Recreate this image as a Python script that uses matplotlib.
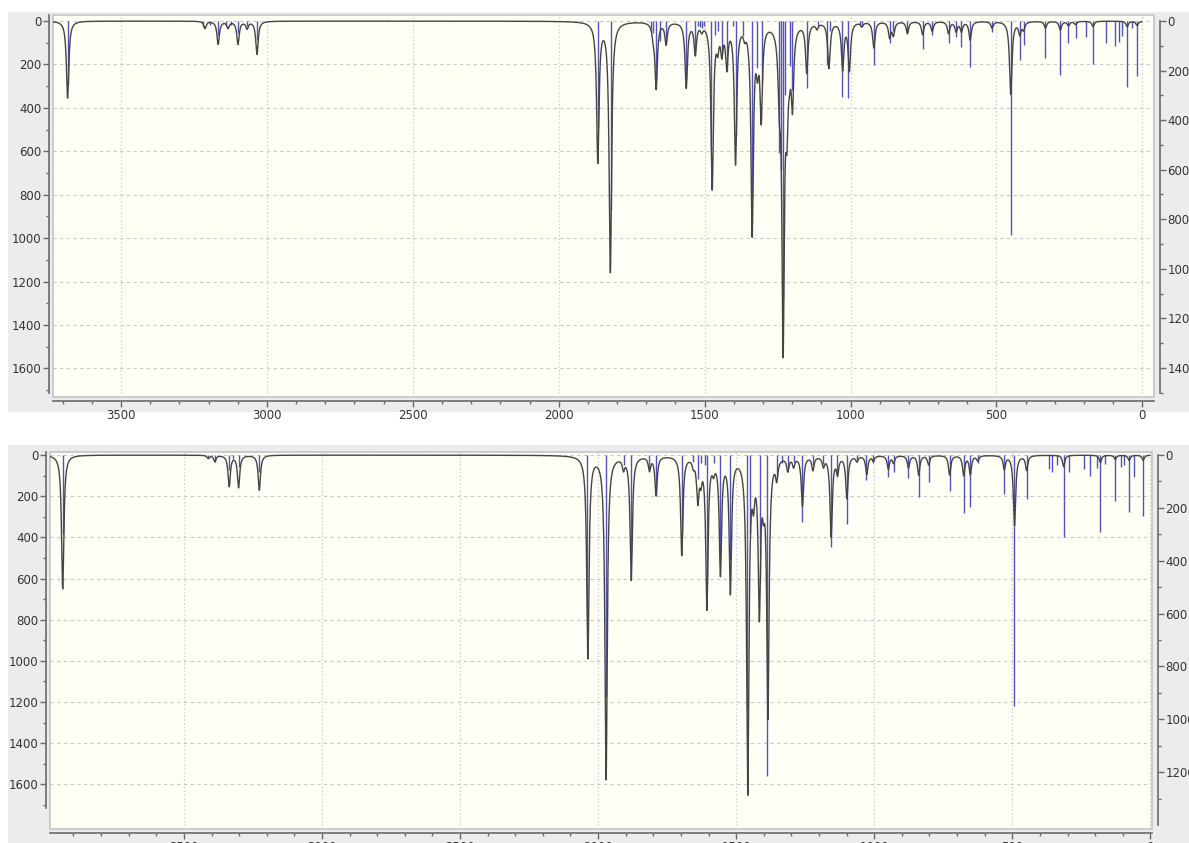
import matplotlib
matplotlib.use('Agg')
import matplotlib.pyplot as plt
from matplotlib.patches import Rectangle
from matplotlib.ticker import MultipleLocator, FixedLocator
import numpy as np

# 上图: 谱线位置 (cm-1) 和强度 (右轴)
top_stick_freq = [3683, 3219, 3195, 3167, 3140, 3123, 3099, 3068, 3034,
                  1867, 1821, 1683, 1676, 1666, 1652, 1632, 1563, 1532, 1522, 1515,
                  1508, 1501, 1477, 1466, 1455, 1441, 1424, 1403, 1394, 1367,
                  1336, 1321, 1304, 1244, 1237, 1231, 1224, 1207, 1199, 1150,
                  1113, 1081, 1072, 1029, 1007, 969, 961, 920, 866, 853, 805,
                  753, 720, 664, 638, 620, 590, 515, 451, 420, 407, 332, 281,
                  253, 229, 194, 169, 123, 95, 80, 70, 52, 35, 18]
top_stick_int = [260, 25, 15, 55, 20, 15, 50, 20, 75,
                 430, 760, 40, 50, 240, 80, 80, 238, 140, 20, 25,
                 30, 20, 520, 55, 40, 129, 200, 20, 466, 60,
                 709, 190, 250, 533, 600, 1125, 300, 180, 278, 270,
                 20, 177, 40, 306, 310, 20, 15, 177, 90, 40, 50,
                 115, 56, 90, 63, 104, 185, 45, 863, 157, 97, 148, 220,
                 88, 70, 64, 172, 90, 100, 85, 60, 268, 30, 222]

# 上图: 展宽曲线的峰 (左轴)
top_band_freq = [3683, 3212, 3167, 3133, 3099, 3068, 3034,
                 1866, 1823, 1676, 1666, 1632, 1563, 1532, 1510, 1474, 1455,
                 1441, 1424, 1394, 1363, 1337, 1319, 1306, 1244, 1231, 1218,
                 1209, 1199, 1150, 1115, 1074, 1027, 1004, 961, 920, 866, 853,
                 805, 753, 720, 664, 638, 620, 590, 515, 451, 420, 407, 332,
                 281, 253, 229, 169, 52, 18]
top_band_depth = [355, 33, 106, 30, 105, 32, 152,
                  640, 1150, 50, 300, 100, 300, 140, 30, 760, 90,
                  120, 190, 640, 40, 960, 150, 420, 260, 1450, 360,
                  110, 340, 225, 25, 210, 215, 220, 20, 120, 70, 60,
                  55, 60, 45, 55, 45, 45, 85, 30, 335, 55, 35, 30,
                  40, 20, 15, 25, 25, 20]

# 下图: 谱线位置 (cm-1) 和强度 (右轴)
bot_stick_freq = [3939, 3412, 3388, 3336, 3321, 3302, 3227,
                  2039, 1971, 1908, 1880, 1814, 1790, 1697, 1655, 1640, 1628,
                  1612, 1606, 1582, 1558, 1521, 1461, 1449, 1413, 1387, 1353,
                  1335, 1311, 1292, 1260, 1222, 1184, 1157, 1135, 1099, 1063,
                  1028, 1003, 949, 930, 876, 839, 803, 727, 676, 652, 625,
                  529, 492, 448, 366, 357, 339, 314, 295, 241, 220, 193, 181,
                  163, 127, 106, 94, 77, 58, 26]
bot_stick_int = [300, 10, 25, 57, 15, 45, 63,
                 612, 915, 40, 372, 57, 150, 303, 25, 90, 30,
                 40, 473, 30, 372, 398, 966, 300, 480, 1216, 82,
                 30, 50, 25, 252, 40, 35, 347, 75, 263, 25,
                 95, 30, 82, 63, 88, 158, 101, 136, 221, 196, 30,
                 149, 951, 167, 55, 63, 40, 309, 63, 55, 78, 50, 293,
                 35, 174, 45, 40, 215, 82, 231]

# 下图: 展宽曲线的峰 (左轴)
bot_band_freq = [3939, 3412, 3388, 3336, 3302, 3227,
                 2037, 1971, 1908, 1880, 1814, 1790, 1697, 1655, 1639, 1628,
                 1606, 1582, 1557, 1521, 1458, 1437, 1416, 1401, 1385, 1353,
                 1313, 1292, 1260, 1222, 1184, 1156, 1133, 1099, 1063, 1027,
                 1003, 949, 930, 876, 839, 803, 727, 676, 652, 625, 529, 492,
                 448, 314, 181, 127, 77, 26]
bot_band_depth = [650, 15, 30, 150, 155, 170,
                  980, 1570, 50, 600, 65, 190, 480, 35, 200, 90,
                  730, 50, 560, 650, 1620, 150, 730, 140, 1240, 90,
                  65, 45, 240, 65, 45, 390, 80, 205, 25, 90,
                  25, 65, 35, 60, 95, 45, 95, 95, 90, 25, 65, 340,
                  70, 55, 35, 20, 25, 25]

HWHM = 5.0


def band_curve(x, freq, depth):
    """洛伦兹展宽: 每个峰在自身位置达到给定深度"""
    y = np.zeros_like(x)
    for f, d in zip(freq, depth):
        y += d / (1.0 + ((x - f) / HWHM) ** 2)
    return y


def draw_panel(ax, stick_f, stick_i, band_f, band_d, xlim, ylim_l, ylim_r,
               lmaj, lmin, rmaj, rmin, rend):
    ax2 = ax.twinx()
    ax.set_xlim(*xlim)
    ax.set_ylim(*ylim_l)
    ax2.set_ylim(*ylim_r)

    ax.set_facecolor('#fffff6')
    ax.patch.set_edgecolor('#c4c4c4')
    ax.patch.set_linewidth(1.2)

    # 刻度和网格
    ax.xaxis.set_major_locator(MultipleLocator(500))
    ax.xaxis.set_minor_locator(MultipleLocator(100))
    ax.yaxis.set_major_locator(FixedLocator(np.arange(0, lmaj + 1, 200)))
    ax.yaxis.set_minor_locator(FixedLocator(np.arange(100, lmin + 1, 200)))
    ax2.yaxis.set_major_locator(FixedLocator(np.arange(0, rmaj + 1, 200)))
    ax2.yaxis.set_minor_locator(FixedLocator(np.arange(100, rmin + 1, 200)))
    ax.grid(True, axis='y', color='#c8c8c8', linestyle=(0, (3, 3)), linewidth=0.8)
    ax.grid(True, axis='x', color='#c8c8c8', linestyle=(0, (1, 2)), linewidth=0.9)

    # 谱线 (右轴刻度)
    ax.vlines(stick_f, 0, stick_i, colors='#3535b5', linewidth=1.0, alpha=0.85,
              transform=ax2.transData, zorder=2)

    # 展宽曲线 (左轴刻度)
    x = np.arange(xlim[0], xlim[1], -0.25)
    x = x[(x <= max(xlim)) & (x >= 2)]
    y = band_curve(x, band_f, band_d)
    ax.plot(x, y, color='#444444', linewidth=1.0, zorder=3)

    for s in ['top', 'right']:
        ax.spines[s].set_visible(False)
    for s in ['left', 'bottom']:
        ax.spines[s].set_position(('outward', 3))
        ax.spines[s].set_color('#6a6a6a')
        ax.spines[s].set_linewidth(1.2)
    ax.spines['left'].set_bounds(ylim_l[1], lmin + 15)
    for s in ['top', 'left', 'bottom']:
        ax2.spines[s].set_visible(False)
    ax2.spines['right'].set_position(('outward', 4))
    ax2.spines['right'].set_bounds(0, rend)
    ax2.spines['right'].set_color('#6a6a6a')
    ax2.spines['right'].set_linewidth(1.2)

    for a in (ax, ax2):
        a.tick_params(which='major', length=4, width=1, color='#6a6a6a',
                      labelsize=8.5, labelcolor='#333333', pad=1.5)
        a.tick_params(which='minor', length=2.5, width=1, color='#6a6a6a')
    return ax2


fig = plt.figure(figsize=(11.89, 8.43), dpi=100)
fig.patch.set_facecolor('white')
W, H = 1189.0, 843.0
fig.patches.append(Rectangle((8 / W, 1 - 412 / H), 1 - 8 / W, 400 / H,
                             transform=fig.transFigure, facecolor='#ececec',
                             edgecolor='none', zorder=-5))
fig.patches.append(Rectangle((8 / W, 0), 1 - 8 / W, 398 / H,
                             transform=fig.transFigure, facecolor='#ececec',
                             edgecolor='none', zorder=-5))

ax_top = fig.add_axes([53 / W, 1 - 397 / H, (1154 - 53) / W, (397 - 15) / H])
draw_panel(ax_top, top_stick_freq, top_stick_int, top_band_freq, top_band_depth,
           (3733, -40), (1732, -28), (1517, -24), 1600, 1700, 1400, 1500, 1500)

ax_bot = fig.add_axes([50 / W, 1 - 829 / H, (1152 - 50) / W, (829 - 452) / H])
draw_panel(ax_bot, bot_stick_freq, bot_stick_int, bot_band_freq, bot_band_depth,
           (3985, -6), (1817, -15), (1415, -11), 1600, 1700, 1200, 1300, 1400)

fig.savefig('out.png', dpi=100, facecolor=fig.get_facecolor())
